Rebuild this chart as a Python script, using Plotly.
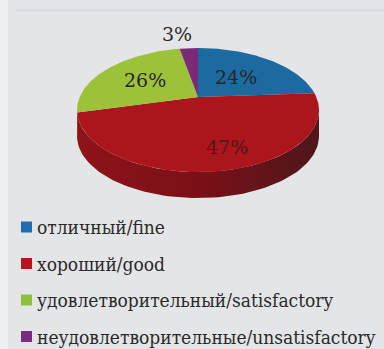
import numpy as np
import plotly.graph_objects as go

# ---- data ----
categories = ["отличный/fine", "хороший/good",
              "удовлетворительный/satisfactory",
              "неудовлетворительные/unsatisfactory"]
values = [24, 47, 26, 3]
pct_labels = ["24%", "47%", "26%", "3%"]

# ---- style ----
LEG_FONT = "DejaVu Serif Condensed"
PCT_FONT = "DejaVu Serif"
top_colors = ["#1d6aa0", "#ab151c", "#9cc23a", "#7c2a78"]
side_colors = [
    [[0, "#1a4f78"], [1, "#143f60"]],
    [[0, "#8e1418"], [0.5, "#7a1017"], [1, "#4e171b"]],
    [[0, "#7a9a2c"], [1, "#6a8a24"]],
    [[0, "#5e2058"], [1, "#4e1a4a"]],
]
legend_colors = ["#1f6db0", "#b0191f", "#8fc23a", "#7b2c7e"]
label_colors = ["#262626", "#4a1a1a", "#262626", "#2a2a2a"]
label_radius = [0.5, 0.75, 0.57, 1.4]
label_angle_nudge = [0, -7, 0, -4]

W, H = 384, 349
CX, CY = 198, 97
A, B, P = 118.3, 59.3, 0.21
D = 26


def proj(theta_deg, r=1.0):
    t = np.radians(theta_deg)
    u = r * np.sin(t)
    v = r * np.cos(t)
    s = 1 + P * v
    return CX + A * u / s, CY - B * v / s


fig = go.Figure()

total = sum(values)
bounds = np.concatenate([[0], np.cumsum(values) / total * 360])

vis_a = np.degrees(np.arccos(-P))
vis_b = 360 - vis_a

for i in range(len(values)):
    a = max(bounds[i], vis_a)
    b = min(bounds[i + 1], vis_b)
    if b <= a:
        continue
    th = np.linspace(a, b, 80)
    xs, ys = proj(th)
    px = np.concatenate([xs, xs[::-1], [xs[0]]])
    py = np.concatenate([ys, ys[::-1] + D, [ys[0]]])
    fig.add_trace(go.Scatter(
        x=px, y=py, mode="lines", fill="toself",
        line=dict(width=0, color=top_colors[i]),
        fillgradient=dict(type="horizontal", colorscale=side_colors[i]),
        hoverinfo="skip", showlegend=False))

for i in range(len(values)):
    th = np.linspace(bounds[i], bounds[i + 1], 120)
    xs, ys = proj(th)
    px = np.concatenate([[CX], xs, [CX]])
    py = np.concatenate([[CY], ys, [CY]])
    fig.add_trace(go.Scatter(
        x=px, y=py, mode="lines", fill="toself",
        fillcolor=top_colors[i], line=dict(width=0, color=top_colors[i]),
        hoverinfo="skip", showlegend=False))

for i in range(len(values)):
    mid = (bounds[i] + bounds[i + 1]) / 2 + label_angle_nudge[i]
    lx, ly = proj(mid, label_radius[i])
    fig.add_annotation(x=lx, y=ly, text=pct_labels[i], showarrow=False,
                       font=dict(family=PCT_FONT, size=19,
                                 color=label_colors[i]),
                       xanchor="center", yanchor="middle")

LEG_Y0, LEG_DY = 227, 36.5
leg_y = [LEG_Y0 + k * LEG_DY for k in range(len(categories))]
fig.add_trace(go.Scatter(
    x=[26.5] * len(categories), y=leg_y, mode="markers",
    marker=dict(symbol="square", size=11, color=legend_colors,
                line=dict(width=0)),
    hoverinfo="skip", showlegend=False))
for k, c in enumerate(categories):
    fig.add_annotation(x=35, y=leg_y[k], text=c, showarrow=False,
                       xanchor="left", yanchor="middle",
                       font=dict(family=LEG_FONT, size=19, color="#2a2a2a"))

fig.add_shape(type="rect", xref="x", yref="y", x0=0, x1=8, y0=0, y1=H,
              fillcolor="#eeeff0", line=dict(width=0), layer="below")
fig.add_shape(type="line", xref="x", yref="y", x0=16, x1=W, y0=10, y1=10,
              line=dict(color="#d8dbe2", width=3), layer="below")

fig.update_layout(
    width=W, height=H,
    margin=dict(l=0, r=0, t=0, b=0),
    paper_bgcolor="#e4e5e7", plot_bgcolor="#e4e5e7",
    xaxis=dict(range=[0, W], visible=False, fixedrange=True),
    yaxis=dict(range=[H, 0], visible=False, fixedrange=True),
    showlegend=False,
)

fig.write_html("out.html", config={"displayModeBar": False})
